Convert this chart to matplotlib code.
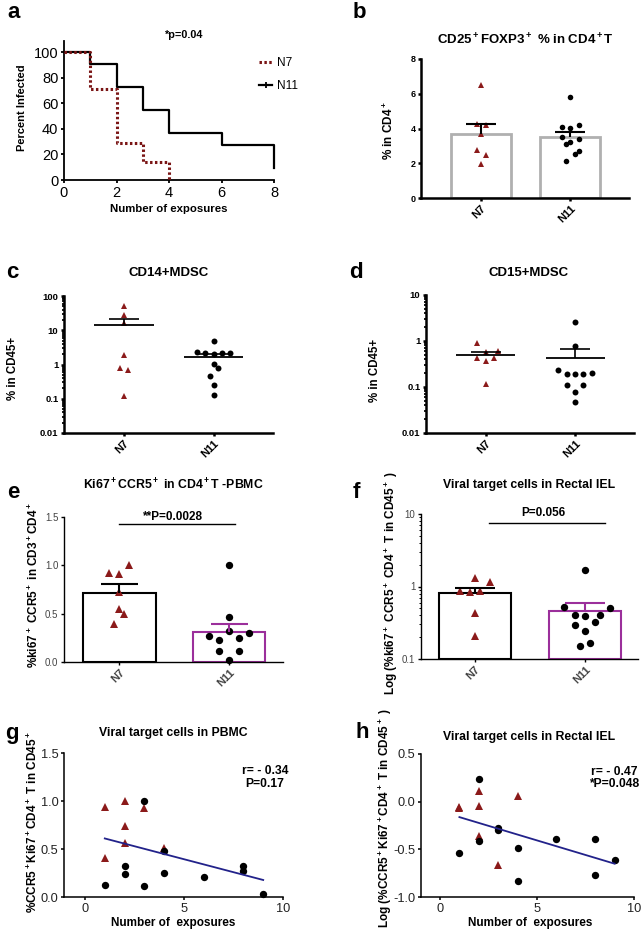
import numpy as np
import matplotlib
matplotlib.use('Agg')
import matplotlib.pyplot as plt
from matplotlib.lines import Line2D
from matplotlib.ticker import LogLocator, NullFormatter

plt.rcParams['font.family'] = ['Liberation Sans', 'DejaVu Sans']
plt.rcParams['mathtext.fontset'] = 'custom'
plt.rcParams['mathtext.rm'] = 'Liberation Sans'
plt.rcParams['mathtext.bf'] = 'Liberation Sans:bold'
plt.rcParams['mathtext.default'] = 'bf'

# ---- data ----
groups = ['N7', 'N11']

# a: survival curves (percent infected)
a_n7_x = [0, 1, 2, 3, 4]
a_n7_y = [100, 71.4, 28.6, 14.3, 0]
a_n11_x = [0, 1, 2, 3, 4, 6, 8]
a_n11_y = [100, 90.9, 72.7, 54.5, 36.4, 27.3, 9.1]

# b: CD25+FOXP3+ % in CD4+T
b_n7 = [6.5, 4.25, 4.2, 3.68, 2.76, 2.47, 1.95]
b_n11 = [5.80, 4.10, 4.01, 4.20, 3.53, 3.40, 3.11, 3.22, 2.71, 2.51, 2.13]

# c: CD14+MDSC
c_n7 = [52, 27.9, 15.8, 1.9, 0.81, 0.69, 0.12]
c_n11 = [4.85, 2.27, 2.17, 2.0, 2.12, 2.21, 1.03, 0.78, 0.45, 0.245, 0.126]

# d: CD15+MDSC
d_n7 = [0.89, 0.586, 0.617, 0.434, 0.367, 0.434, 0.115]
d_n11 = [2.63, 0.78, 0.234, 0.189, 0.189, 0.189, 0.2, 0.11, 0.11, 0.079, 0.048]

# e: Ki67+CCR5+ in CD4+T PBMC
e_n7 = [0.925, 0.908, 1.0, 0.726, 0.548, 0.497, 0.394]
e_n11 = [1.0, 0.469, 0.274, 0.229, 0.318, 0.247, 0.301, 0.113, 0.113, 0.024]

# f: rectal IEL
f_n7 = [1.30, 1.15, 0.87, 0.835, 0.87, 0.43, 0.21]
f_n11 = [1.70, 0.524, 0.508, 0.40, 0.386, 0.40, 0.29, 0.32, 0.245, 0.149, 0.165]

# g: PBMC vs exposures
g_n7_x = [1, 1, 2, 2, 2, 3, 4]
g_n7_y = [0.933, 0.404, 1.0, 0.74, 0.56, 0.923, 0.508]
g_n11_x = [1, 2, 2, 3, 3, 4, 4, 6, 8, 8, 9]
g_n11_y = [0.121, 0.318, 0.239, 1.0, 0.118, 0.48, 0.249, 0.207, 0.328, 0.273, 0.035]

# h: rectal IEL (log) vs exposures
h_n7_x = [1, 1, 2, 2, 2, 3, 4]
h_n7_y = [-0.059, -0.07, 0.115, -0.042, -0.356, -0.663, 0.063]
h_n11_x = [1, 2, 2, 3, 3, 4, 4, 6, 8, 8, 9]
h_n11_y = [-0.534, 0.234, -0.408, -0.28, -0.30, -0.488, -0.827, -0.394, -0.394, -0.774, -0.61]

# horizontal scatter of the dots within each column (layout only)
b_dx7 = [0, -0.05, 0.05, 0, -0.05, 0.05, 0]
b_dx11 = [0, -0.094, 0, 0.094, -0.094, 0.094, -0.045, 0, 0.094, 0.049, -0.045]
c_dx7 = [0, 0, 0, 0, -0.048, 0.048, 0]
c_dx11 = [0, -0.185, -0.093, 0, 0.093, 0.185, 0, 0.044, -0.044, 0, 0]
d_dx7 = [-0.094, 0, 0.14, -0.094, 0, 0.094, 0]
d_dx11 = [0, 0, -0.187, -0.094, 0, 0.094, 0.187, -0.094, 0.094, 0, 0]
e_dx7 = [-0.095, 0, 0.09, 0, 0, 0.04, -0.045]
e_dx11 = [0, 0, -0.18, -0.09, 0, 0.09, 0.18, -0.09, 0.09, 0]
f_dx7 = [0, 0.138, -0.135, -0.044, 0.047, 0, 0]
f_dx11 = [0, -0.188, 0.226, -0.095, 0, 0.135, -0.095, 0.086, 0, -0.05, 0.044]

RED = '#8b1a1a'
PURPLE = '#9b2f9b'
NAVY = '#22228a'
W, H = 643, 931

fig = plt.figure(figsize=(W / 100, H / 100), dpi=100)


def axes_px(l, t, r, b):
    return fig.add_axes([l / W, 1 - b / H, (r - l) / W, (b - t) / H])


def txt(x, y, s, size, bold=True, **kw):
    fig.text(x / W, 1 - y / H, s, fontsize=size,
             fontweight='bold' if bold else 'normal',
             ha=kw.pop('ha', 'center'), va=kw.pop('va', 'center'), **kw)


def style(ax, lw, size, bold=False, color='black'):
    for s in ['top', 'right']:
        ax.spines[s].set_visible(False)
    for s in ['left', 'bottom']:
        ax.spines[s].set_linewidth(lw)
    ax.tick_params(width=lw, length=2.5, pad=1.5, labelsize=size, labelcolor=color)
    ax.tick_params(which='minor', width=lw * 0.7, length=1.6)
    if bold:
        for t in ax.get_yticklabels():
            t.set_fontweight('bold')


def group_xticks(ax):
    ax.set_xticks([0, 1])
    ax.set_xticklabels(groups, rotation=45, ha='right', va='top',
                       rotation_mode='anchor', fontweight='bold', fontsize=8)


def upper_sem(ax, x, vals, color, half, lw):
    v = np.array(vals)
    m = v.mean()
    sem = v.std(ddof=1) / np.sqrt(len(v))
    ax.vlines(x, m, m + sem, color=color, lw=lw, zorder=4)
    ax.hlines(m + sem, x - half, x + half, color=color, lw=lw, zorder=4)
    return m


def dots(ax, x, vals, dx, marker, color, ms):
    ax.plot(np.array(dx) + x, vals, ls='none', marker=marker, color=color,
            ms=ms, mew=0, zorder=3, clip_on=False)


# ---------- a ----------
ax = axes_px(64, 40.7, 274, 180)
ax.step(a_n7_x, a_n7_y, where='post', color='#7a1515', lw=2.2,
        ls=(0, (0.8, 0.8)), clip_on=False, zorder=3)
ax.step(a_n11_x, a_n11_y, where='post', color='black', lw=1.6, clip_on=False)
ax.set_xlim(0, 8)
ax.set_ylim(0, 109)
ax.set_xticks(range(0, 9, 2))
ax.set_yticks(range(0, 101, 20))
style(ax, 1.3, 10.5)
handles = [Line2D([], [], color='#7a1515', lw=2.2, ls=(0, (0.8, 0.8))),
           Line2D([], [], color='black', lw=1.6, marker='|', ms=5, mew=1.3)]
ax.legend(handles, ['N7', 'N11'], loc='upper left', bbox_to_anchor=(0.93, 0.88),
          frameon=False, fontsize=8.5, handlelength=1.1, handletextpad=0.4,
          labelspacing=0.9, borderpad=0, borderaxespad=0)
txt(22, 108, 'Percent Infected', 8, rotation=90)
txt(169, 209, 'Number of exposures', 8.2)
txt(184, 35, '*p=0.04', 7.8)
txt(14, 13, 'a', 16)

# ---------- b ----------
ax = axes_px(421, 59, 629, 198)
means = [np.mean(b_n7), np.mean(b_n11)]
ax.bar([0, 1], means, width=0.67, color='white', edgecolor='#b0b0b0', lw=2, zorder=1)
dots(ax, 0, b_n7, b_dx7, '^', RED, 4.8)
dots(ax, 1, b_n11, b_dx11, 'o', 'black', 4)
upper_sem(ax, 0, b_n7, 'black', 0.17, 1.5)
upper_sem(ax, 1, b_n11, 'black', 0.17, 1.5)
ax.set_xlim(-0.674, 1.66)
ax.set_ylim(0, 8)
ax.set_yticks(range(0, 9, 2))
style(ax, 1.8, 6.5, bold=True)
group_xticks(ax)
txt(389, 130, '% in CD4$^+$', 8.5, rotation=90)
txt(525, 40, 'CD25$^+$FOXP3$^+$ % in CD4$^+$T', 9.5)
txt(359, 12, 'b', 16)


# ---------- c / d ----------
def log_dot_panel(box, n7, n11, dx7, dx11, top, ticks, labels):
    ax = axes_px(*box)
    ax.set_yscale('log')
    dots(ax, 0, n7, dx7, '^', RED, 4.8)
    dots(ax, 1, n11, dx11, 'o', 'black', 4.3)
    for x, v in [(0, n7), (1, n11)]:
        m = upper_sem(ax, x, v, 'black', 0.167, 1.2)
        ax.hlines(m, x - 0.33, x + 0.33, color='black', lw=1.3, zorder=4)
    ax.set_xlim(-0.667, 1.66)
    ax.set_ylim(0.01, top)
    ax.set_yticks(ticks)
    ax.set_yticklabels(labels)
    ax.yaxis.set_minor_locator(LogLocator(base=10, subs=np.arange(2, 10)))
    ax.yaxis.set_minor_formatter(NullFormatter())
    style(ax, 1.8, 6.8, bold=True)
    group_xticks(ax)
    return ax


log_dot_panel((64, 296, 273, 433), c_n7, c_n11, c_dx7, c_dx11, 100,
              [0.01, 0.1, 1, 10, 100], ['0.01', '0.1', '1', '10', '100'])
txt(13, 368, '% in CD45+', 8.3, rotation=90)
txt(169, 273, 'CD14+MDSC', 9.5)
txt(12, 273, 'c', 16)

log_dot_panel((426, 295, 634, 433), d_n7, d_n11, d_dx7, d_dx11, 10,
              [0.01, 0.1, 1, 10], ['0.01', '0.1', '1', '10'])
txt(375, 370, '% in CD45+', 8.3, rotation=90)
txt(529, 273, 'CD15+MDSC', 9.5)
txt(356, 273, 'd', 16)

# ---------- e ----------
ax = axes_px(64, 517, 283, 662)
ax.bar([0, 1], [np.mean(e_n7), np.mean(e_n11)], width=0.66, color='white',
       edgecolor=['black', PURPLE], lw=1.5, zorder=1)
dots(ax, 0, e_n7, e_dx7, '^', RED, 6)
dots(ax, 1, e_n11, e_dx11, 'o', 'black', 5.3)
upper_sem(ax, 0, e_n7, 'black', 0.17, 1.5)
upper_sem(ax, 1, e_n11, PURPLE, 0.17, 1.5)
ax.plot([0, 1.05], [1.427, 1.427], color='black', lw=1)
ax.text(0.49, 1.5, '**P=0.0028', ha='center', va='center', fontsize=8.5,
        fontweight='bold')
ax.set_xlim(-0.505, 1.49)
ax.set_ylim(0, 1.5)
ax.set_yticks([0, 0.5, 1.0, 1.5])
ax.set_yticklabels(['0.0', '0.5', '1.0', '1.5'])
style(ax, 1.0, 7, color='#444444')
group_xticks(ax)
txt(34, 585, '%ki67$^+$ CCR5$^+$ in CD3$^+$CD4$^+$', 8.5, rotation=90)
txt(173, 485, 'Ki67$^+$CCR5$^+$ in CD4$^+$T -PBMC', 8.8)
txt(13, 492, 'e', 16)

# ---------- f ----------
ax = axes_px(421, 514, 638, 659)
ax.set_yscale('log')
fm = [np.mean(f_n7), np.mean(f_n11)]
ax.bar([0, 1], [fm[0] - 0.1, fm[1] - 0.1], bottom=0.1, width=0.66, color='white',
       edgecolor=['black', PURPLE], lw=1.5, zorder=1)
dots(ax, 0, f_n7, f_dx7, '^', RED, 6)
dots(ax, 1, f_n11, f_dx11, 'o', 'black', 5.3)
upper_sem(ax, 0, f_n7, 'black', 0.18, 1.5)
upper_sem(ax, 1, f_n11, PURPLE, 0.18, 1.5)
ax.plot([0.13, 1.18], [7.56, 7.56], color='black', lw=1)
ax.text(0.62, 10.4, 'P=0.056', ha='center', va='center', fontsize=8.5,
        fontweight='bold')
ax.set_xlim(-0.49, 1.48)
ax.set_ylim(0.1, 10)
ax.set_yticks([0.1, 1, 10])
ax.set_yticklabels(['0.1', '1', '10'])
ax.yaxis.set_minor_locator(LogLocator(base=10, subs=np.arange(2, 10)))
ax.yaxis.set_minor_formatter(NullFormatter())
style(ax, 1.0, 7, color='#444444')
group_xticks(ax)
txt(391, 583, 'Log (%ki67$^+$ CCR5$^+$ CD4$^+$ T in CD45$^+$ )', 8.5, rotation=90)
txt(529, 485, 'Viral target cells in Rectal IEL', 8.8)
txt(356, 492, 'f', 16)


# ---------- g / h ----------
def corr_panel(box, x7, y7, x11, y11, xlim, ylim, yticks, ylabels):
    ax = axes_px(*box)
    ax.plot(x7, y7, ls='none', marker='^', color=RED, ms=6, mew=0, zorder=3)
    ax.plot(x11, y11, ls='none', marker='o', color='black', ms=5.3, mew=0, zorder=3,
            clip_on=False)
    xs = np.array(x7 + x11, dtype=float)
    ys = np.array(y7 + y11)
    k, b0 = np.polyfit(xs, ys, 1)
    xl = np.array([xs.min(), xs.max()])
    ax.plot(xl, k * xl + b0, color=NAVY, lw=1.3, zorder=4)
    ax.set_xlim(*xlim)
    ax.set_ylim(*ylim)
    ax.set_xticks([0, 5, 10])
    ax.set_yticks(yticks)
    ax.set_yticklabels(ylabels)
    style(ax, 1.1, 9.2, color='#222222')
    return ax


ax = corr_panel((64, 753, 283, 897), g_n7_x, g_n7_y, g_n11_x, g_n11_y,
                (-1.06, 10), (0, 1.5), [0, 0.5, 1.0, 1.5],
                ['0.0', '0.5', '1.0', '1.5'])
ax.text(9.1, 1.245, 'r= - 0.34\nP=0.17', ha='center', va='center', fontsize=8.7,
        fontweight='bold', linespacing=1.1)
txt(33, 822, '%CCR5$^+$Ki67$^+$CD4$^+$ T in CD45$^+$', 8.5, rotation=90)
txt(173, 923, 'Number of  exposures', 8.5)
txt(173, 733, 'Viral target cells in PBMC', 8.8)
txt(12, 733, 'g', 16)

ax = corr_panel((421, 754, 634, 897), h_n7_x, h_n7_y, h_n11_x, h_n11_y,
                (-0.98, 10), (-1.0, 0.5), [-1.0, -0.5, 0.0, 0.5],
                ['-1.0', '-0.5', '0.0', '0.5'])
ax.text(8.97, 0.248, 'r= - 0.47\n*P=0.048', ha='center', va='center', fontsize=8.7,
        fontweight='bold', linespacing=1.1)
txt(385, 818, 'Log (%CCR5$^+$Ki67$^+$CD4$^+$ T in CD45$^+$ )', 8.5, rotation=90)
txt(530, 923, 'Number of  exposures', 8.5)
txt(529, 737, 'Viral target cells in Rectal IEL', 8.8)
txt(362, 732, 'h', 16)

fig.savefig('out.png', dpi=100)
